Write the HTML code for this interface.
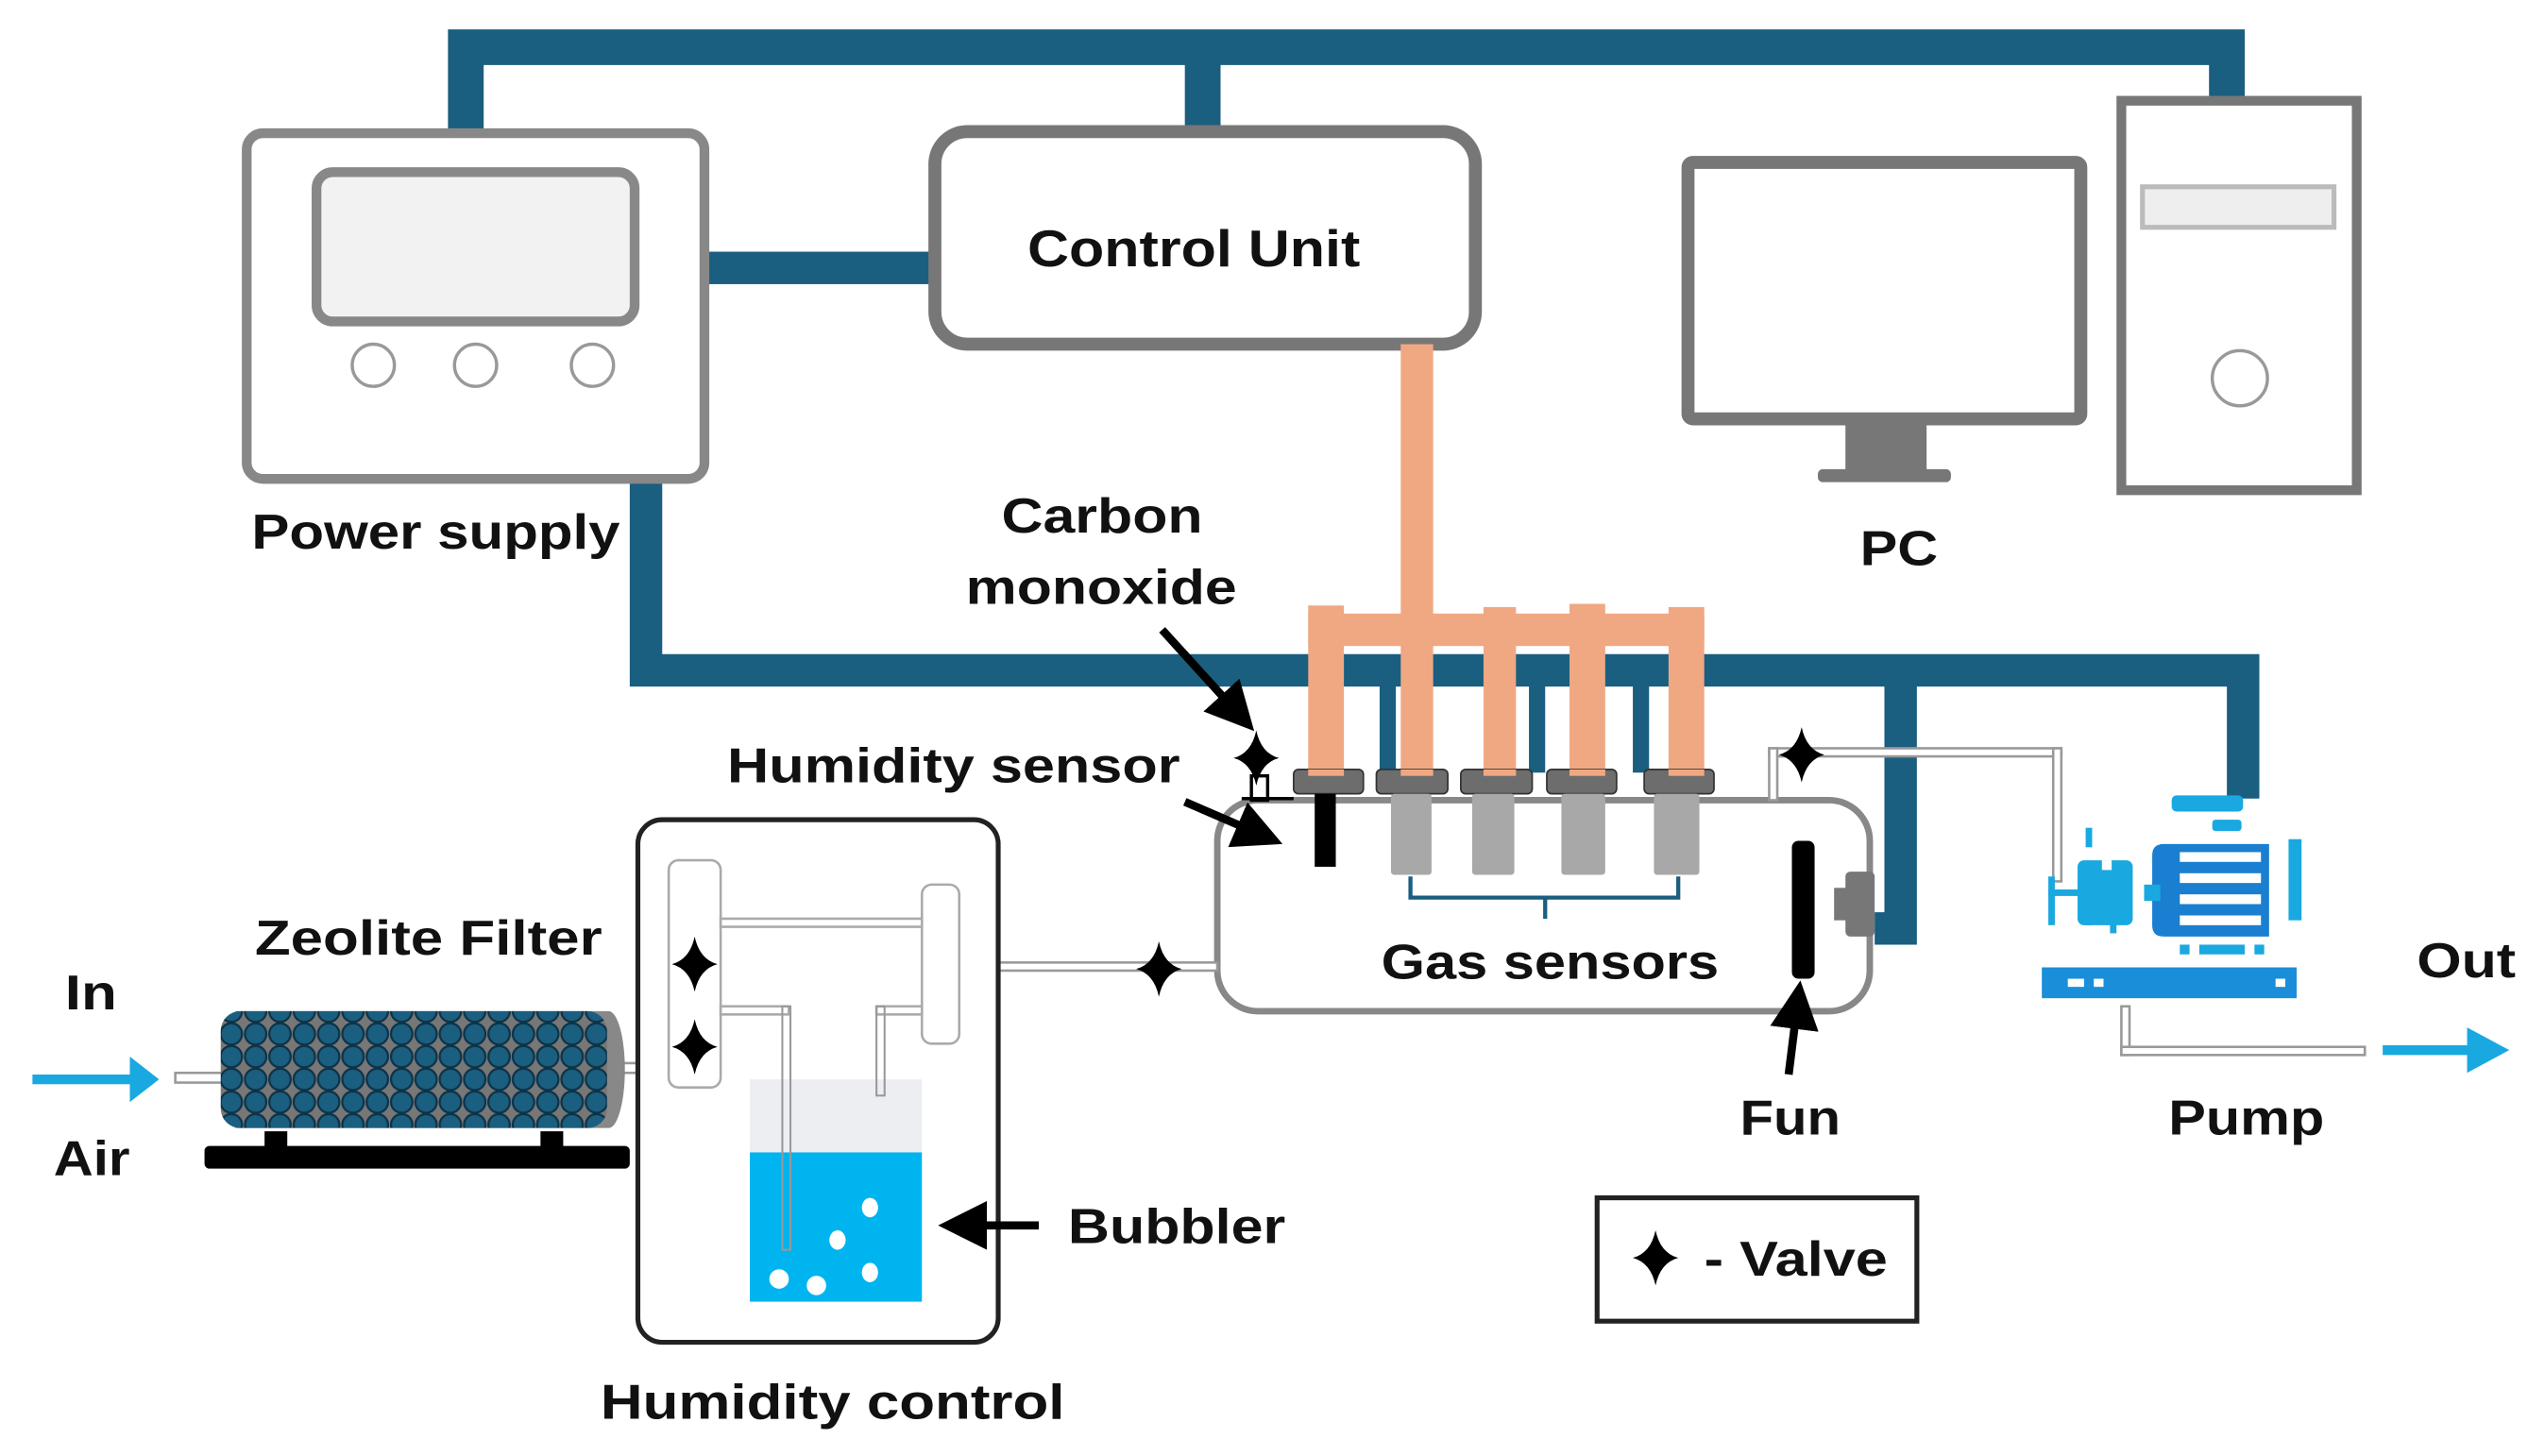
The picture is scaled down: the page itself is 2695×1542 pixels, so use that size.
<!DOCTYPE html>
<html><head><meta charset="utf-8"><style>html,body{margin:0;padding:0;background:#fff}svg{display:block}text{font-family:"Liberation Sans",sans-serif;font-weight:bold;fill:#111}</style></head><body>
<svg width="2695" height="1542" viewBox="0 0 1568 897" xmlns="http://www.w3.org/2000/svg">
<defs>
<path id="st" d="M0,-17 Q3,-3 14,0 Q3,3 0,17 Q-3,3 -14,0 Q-3,-3 0,-17Z" fill="#000"/>
<pattern id="balls" width="15" height="14" patternUnits="userSpaceOnUse">
<rect width="15" height="14" fill="#777"/>
<circle cx="7.5" cy="7" r="6.6" fill="#1a5e80" stroke="#0d3347" stroke-width="1.3"/>
</pattern>
<marker id="ah" markerWidth="6" markerHeight="6" refX="4" refY="3" orient="auto"><path d="M0,0 L6,3 L0,6Z" fill="#000"/></marker>
</defs>
<rect width="1568" height="897" fill="#fff"/>
<path d="M287,80 V29 H1372 V60 M741,29 V80" fill="none" stroke="#1a5e80" stroke-width="22"/>
<rect x="434" y="155" width="142" height="20" fill="#1a5e80"/>
<path d="M398,295 V413 H1382 V492 M1171,413 V572 H1155" fill="none" stroke="#1a5e80" stroke-width="20"/>
<g fill="#1a5e80"><rect x="850" y="420" width="10" height="56"/><rect x="942" y="420" width="10" height="56"/><rect x="1006" y="420" width="10" height="56"/><rect x="1030" y="420" width="10" height="56"/></g>
<rect x="152" y="82" width="282" height="213" rx="10" fill="#fff" stroke="#888" stroke-width="6"/>
<rect x="195" y="106" width="196" height="92" rx="10" fill="#f2f2f2" stroke="#888" stroke-width="6"/>
<g fill="none" stroke="#999" stroke-width="2"><circle cx="230" cy="225" r="13"/><circle cx="293" cy="225" r="13"/><circle cx="365" cy="225" r="13"/></g>
<rect x="576" y="81" width="333" height="131" rx="20" fill="#fff" stroke="#777" stroke-width="8"/>
<text x="633" y="164" font-size="32" textLength="205" lengthAdjust="spacingAndGlyphs">Control Unit</text>
<rect x="1040" y="100" width="242" height="158" rx="3" fill="#fff" stroke="#777" stroke-width="8"/>
<rect x="1137" y="258" width="50" height="32" fill="#777"/>
<rect x="1120" y="289" width="82" height="8" rx="3" fill="#777"/>
<rect x="1307" y="62" width="145" height="240" fill="#fff" stroke="#777" stroke-width="6"/>
<rect x="1320" y="115" width="118" height="25" fill="#eee" stroke="#bbb" stroke-width="3"/>
<circle cx="1380" cy="233" r="17" fill="none" stroke="#999" stroke-width="2"/>
<text x="1146" y="348" font-size="30" textLength="48" lengthAdjust="spacingAndGlyphs">PC</text>
<g fill="#f0a882">
<rect x="863" y="212" width="20" height="270"/>
<rect x="806" y="378" width="244" height="20"/>
<rect x="806" y="373" width="22" height="106"/>
<rect x="914" y="374" width="20" height="105"/>
<rect x="967" y="372" width="22" height="107"/>
<rect x="1028" y="374" width="22" height="105"/>
</g>
<rect x="750" y="493" width="402" height="130" rx="25" fill="none" stroke="#888" stroke-width="4"/>
<g fill="#6d6d6d" stroke="#333" stroke-width="1"><rect x="797" y="474" width="43" height="15" rx="3"/><rect x="848" y="474" width="44" height="15" rx="3"/><rect x="900" y="474" width="44" height="15" rx="3"/><rect x="953" y="474" width="43" height="15" rx="3"/><rect x="1013" y="474" width="43" height="15" rx="3"/></g>
<g fill="#f0a882"><rect x="806" y="474" width="22" height="4"/><rect x="863" y="474" width="20" height="4"/><rect x="914" y="474" width="20" height="4"/><rect x="967" y="474" width="22" height="4"/><rect x="1028" y="474" width="22" height="4"/></g>
<g fill="#a8a8a8"><rect x="857" y="489" width="25" height="50" rx="2"/><rect x="907" y="489" width="26" height="50" rx="2"/><rect x="962" y="489" width="27" height="50" rx="2"/><rect x="1019" y="489" width="28" height="50" rx="2"/></g>
<rect x="810" y="489" width="13" height="45" fill="#000"/>
<path d="M869,540 V553 H1034 V540 M952,553 V566" fill="none" stroke="#1a5e80" stroke-width="2.5"/>
<text x="851" y="603" font-size="30" textLength="208" lengthAdjust="spacingAndGlyphs">Gas sensors</text>
<rect x="1104" y="518" width="14" height="85" rx="4" fill="#000"/>
<rect x="1130" y="547" width="12" height="20" fill="#777"/>
<rect x="1137" y="537" width="18" height="40" rx="3" fill="#777"/>
<rect x="771" y="478" width="10" height="15" fill="#fff" stroke="#000" stroke-width="2"/>
<line x1="765" y1="492" x2="797" y2="492" stroke="#000" stroke-width="2"/>
<use href="#st" x="774" y="467"/>
<line x1="716" y1="388" x2="766" y2="443" stroke="#000" stroke-width="5" marker-end="url(#ah)"/>
<line x1="730" y1="494" x2="781" y2="516" stroke="#000" stroke-width="5" marker-end="url(#ah)"/>
<text x="617" y="328" font-size="30" textLength="124" lengthAdjust="spacingAndGlyphs">Carbon</text>
<text x="595" y="372" font-size="30" textLength="167" lengthAdjust="spacingAndGlyphs">monoxide</text>
<text x="448" y="482" font-size="30" textLength="279" lengthAdjust="spacingAndGlyphs">Humidity sensor</text>
<g fill="#fff" stroke="#999" stroke-width="1.5">
<rect x="1090" y="461" width="180" height="5"/>
<rect x="1090" y="461" width="5" height="32"/>
<rect x="1265" y="461" width="5" height="82"/>
<rect x="1307" y="620" width="5" height="30"/>
<rect x="1307" y="645" width="150" height="5"/>
<rect x="592" y="593" width="158" height="5"/>
<rect x="108" y="661" width="30" height="6"/>
<rect x="383" y="655" width="30" height="6"/>
</g>
<use href="#st" x="1110" y="465"/>
<use href="#st" x="714" y="597"/>
<g fill="#1aa8e0">
<rect x="1338" y="490" width="44" height="10" rx="3"/>
<rect x="1363" y="505" width="18" height="7" rx="2"/>
<path d="M1333,520 H1398 V577 H1333 Q1326,577 1326,570 V527 Q1326,520 1333,520Z" fill="#1a7fd0"/>
<rect x="1285" y="510" width="4" height="12"/><rect x="1285" y="535" width="4" height="35"/>
<rect x="1300" y="555" width="4" height="20"/>
<rect x="1262" y="540" width="4" height="30"/><rect x="1262" y="548" width="18" height="4"/>
<rect x="1280" y="530" width="34" height="40" rx="4"/>
<rect x="1321" y="545" width="10" height="10"/>
<rect x="1410" y="517" width="8" height="50"/>
<rect x="1258" y="596" width="157" height="19" fill="#1a8ed8"/>
<rect x="1343" y="582" width="6" height="6"/><rect x="1355" y="582" width="28" height="6"/><rect x="1389" y="582" width="6" height="6"/>
</g>
<g fill="#fff"><rect x="1343" y="525" width="50" height="6"/><rect x="1343" y="538" width="50" height="6"/><rect x="1343" y="551" width="50" height="6"/><rect x="1343" y="564" width="50" height="6"/><rect x="1295" y="530" width="6" height="6"/><rect x="1274" y="603" width="10" height="5"/><rect x="1290" y="603" width="6" height="5"/><rect x="1402" y="603" width="6" height="5"/></g>
<path d="M1468,647 H1525" stroke="#1aa8e0" stroke-width="6"/>
<path d="M1520,633 L1546,647 L1520,661Z" fill="#1aa8e0"/>
<text x="1489" y="602" font-size="30" textLength="61" lengthAdjust="spacingAndGlyphs">Out</text>
<text x="1336" y="699" font-size="30" textLength="96" lengthAdjust="spacingAndGlyphs">Pump</text>
<line x1="1102" y1="662" x2="1108" y2="614" stroke="#000" stroke-width="5" marker-end="url(#ah)"/>
<text x="1072" y="699" font-size="30" textLength="62" lengthAdjust="spacingAndGlyphs">Fun</text>
<rect x="393" y="505" width="222" height="322" rx="15" fill="#fff" stroke="#222" stroke-width="3"/>
<g fill="#fff" stroke="#aaa" stroke-width="1.5">
<rect x="412" y="530" width="32" height="140" rx="6"/>
<rect x="568" y="545" width="23" height="98" rx="6"/>
<rect x="444" y="566" width="124" height="5"/>
<rect x="444" y="620" width="42" height="5"/>
<rect x="540" y="620" width="28" height="5"/>
</g>
<rect x="462" y="665" width="106" height="45" fill="#eceef2"/>
<rect x="462" y="710" width="106" height="92" fill="#00b4f0"/>
<rect x="482" y="620" width="5" height="150" fill="none" stroke="#999" stroke-width="1.2"/>
<rect x="540" y="620" width="5" height="55" fill="none" stroke="#999" stroke-width="1.2"/>
<g fill="#fff"><ellipse cx="536" cy="744" rx="5" ry="6"/><ellipse cx="516" cy="764" rx="5" ry="6"/><ellipse cx="536" cy="784" rx="5" ry="6"/><ellipse cx="480" cy="788" rx="6" ry="6"/><ellipse cx="503" cy="792" rx="6" ry="6"/></g>
<use href="#st" x="428" y="594"/>
<use href="#st" x="428" y="645"/>
<line x1="640" y1="755" x2="588" y2="755" stroke="#000" stroke-width="5" marker-end="url(#ah)"/>
<text x="658" y="766" font-size="30" textLength="134" lengthAdjust="spacingAndGlyphs">Bubbler</text>
<text x="370" y="874" font-size="30" textLength="286" lengthAdjust="spacingAndGlyphs">Humidity control</text>
<path d="M145,623 H375 A10,36 0 0 1 375,695 H145 Z" fill="#888"/>
<rect x="136" y="623" width="238" height="72" rx="12" fill="url(#balls)"/>
<rect x="126" y="706" width="262" height="14" rx="3" fill="#000"/>
<rect x="163" y="697" width="14" height="12" fill="#000"/>
<rect x="333" y="697" width="14" height="12" fill="#000"/>
<text x="157" y="588" font-size="30" textLength="214" lengthAdjust="spacingAndGlyphs">Zeolite Filter</text>
<path d="M20,665 H85" stroke="#1aa8e0" stroke-width="6"/>
<path d="M80,651 L98,665 L80,679Z" fill="#1aa8e0"/>
<text x="40" y="622" font-size="30" textLength="32" lengthAdjust="spacingAndGlyphs">In</text>
<text x="33" y="724" font-size="30" textLength="47" lengthAdjust="spacingAndGlyphs">Air</text>
<text x="155" y="338" font-size="30" textLength="227" lengthAdjust="spacingAndGlyphs">Power supply</text>
<rect x="984" y="738" width="197" height="76" fill="#fff" stroke="#222" stroke-width="3"/>
<use href="#st" x="1020" y="775"/>
<text x="1050" y="786" font-size="30" textLength="113" lengthAdjust="spacingAndGlyphs">- Valve</text>
</svg>
</body></html>
